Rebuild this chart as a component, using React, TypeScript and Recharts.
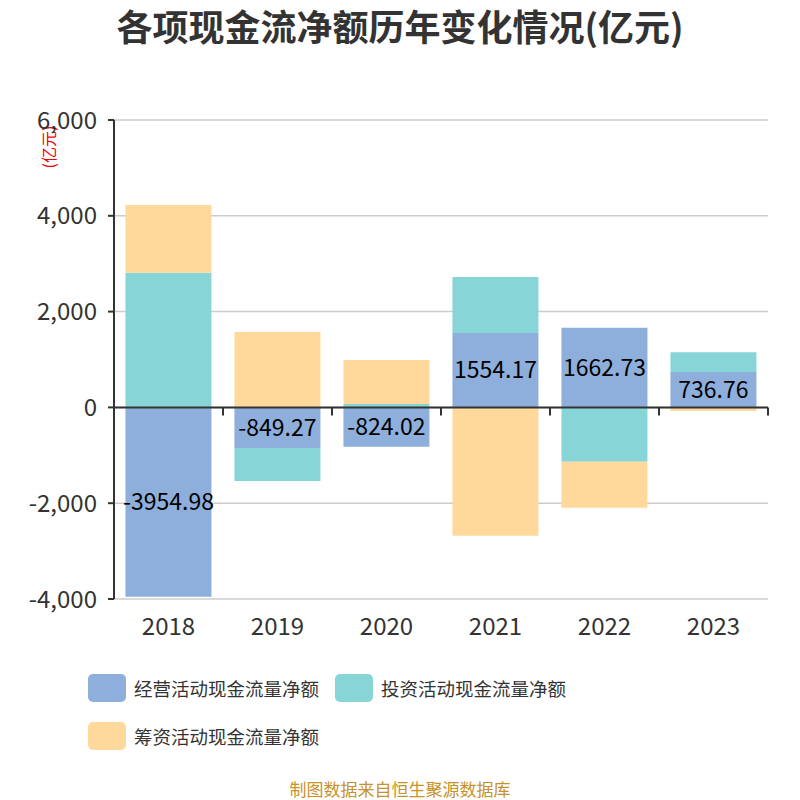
import { Bar, BarChart, CartesianGrid, LabelList, ReferenceLine, XAxis, YAxis } from "recharts";

const years = ["2018", "2019", "2020", "2021", "2022", "2023"];
const operating = [-3954.98, -849.27, -824.02, 1554.17, 1662.73, 736.76];
const investing = [2810, -685, 70, 1169, -1137, 415];
const financing = [1415, 1576, 920, -2682, -960, -73];
const yTicks = [-4000, -2000, 0, 2000, 4000, 6000];

const series = [
  { key: "operating", name: "经营活动现金流量净额", color: "#8eaedb" },
  { key: "investing", name: "投资活动现金流量净额", color: "#88d5d8" },
  { key: "financing", name: "筹资活动现金流量净额", color: "#fed99b" },
];

const data = years.map((year, i) => ({
  year,
  operating: operating[i],
  investing: investing[i],
  financing: financing[i],
}));

const FONT = "'Noto Sans CJK SC', 'Noto Sans', sans-serif";

// zero axis with tick marks between categories
function ZeroAxis(props: any) {
  const { x1, x2, y1 } = props;
  const n = years.length;
  const step = (x2 - x1) / n;
  let d = `M${x1},${y1}H${x2}`;
  for (let i = 0; i <= n; i++) {
    const x = x1 + step * i;
    d += `M${x},${y1}V${y1 + 8}`;
  }
  return <path d={d} stroke="#333" strokeWidth={2} fill="none" />;
}

export default function App() {
  return (
    <div style={{ position: "absolute", left: 0, top: 0, width: 800, height: 800, background: "#fff", fontFamily: FONT }}>
      <div style={{ position: "absolute", top: -1, left: 0, width: 800, textAlign: "center", fontSize: 36, fontWeight: "bold", color: "#333" }}>
        各项现金流净额历年变化情况(亿元)
      </div>
      <div
        style={{
          position: "absolute",
          left: 48,
          top: 147,
          transform: "translate(-50%, -50%) rotate(-90deg)",
          color: "#e00",
          fontSize: 16,
          whiteSpace: "nowrap",
        }}
      >
        (亿元)
      </div>
      <BarChart
        width={800}
        height={800}
        data={data}
        stackOffset="sign"
        barCategoryGap="10.5%"
        margin={{ top: 120, right: 32, bottom: 161, left: 0 }}
        style={{ position: "absolute", left: 0, top: 0 }}
      >
        <CartesianGrid vertical={false} stroke="#ccc" strokeWidth={1.5} />
        <XAxis
          dataKey="year"
          height={40}
          axisLine={false}
          tickLine={false}
          tickMargin={13}
          tick={{ fill: "#333", fontSize: 24, fontFamily: FONT }}
        />
        <YAxis
          width={114}
          domain={[-4000, 6000]}
          ticks={yTicks}
          interval={0}
          tickFormatter={(v: number) => v.toLocaleString("en-US")}
          axisLine={{ stroke: "#333", strokeWidth: 2 }}
          tickLine={{ stroke: "#333", strokeWidth: 2 }}
          tickSize={6}
          tickMargin={11}
          tick={{ fill: "#333", fontSize: 24, fontFamily: FONT }}
        />
        {series.map((s) => (
          <Bar key={s.key} dataKey={s.key} name={s.name} stackId="a" fill={s.color} isAnimationActive={false}>
            {s.key === "operating" && (
              <LabelList dataKey="operating" position="center" fill="#000" fontSize={23} fontFamily={FONT} />
            )}
          </Bar>
        ))}
        <ReferenceLine y={0} shape={ZeroAxis} />
      </BarChart>
      <div style={{ position: "absolute", left: 88, top: 674, width: 500, display: "flex", flexWrap: "wrap", rowGap: 20, columnGap: 16 }}>
        {series.map((s) => (
          <div key={s.key} style={{ display: "flex", alignItems: "center", height: 28 }}>
            <div style={{ width: 38, height: 28, borderRadius: 5, background: s.color, marginRight: 8 }} />
            <span style={{ fontSize: 18.5, color: "#333", whiteSpace: "nowrap" }}>{s.name}</span>
          </div>
        ))}
      </div>
      <div style={{ position: "absolute", top: 776, left: 0, width: 800, textAlign: "center", fontSize: 17, color: "#c8922a" }}>
        制图数据来自恒生聚源数据库
      </div>
    </div>
  );
}
